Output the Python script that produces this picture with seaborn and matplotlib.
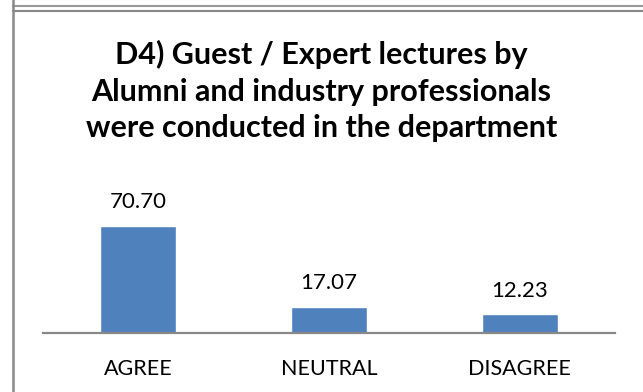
import matplotlib
matplotlib.use("Agg")
import matplotlib.pyplot as plt
from matplotlib.lines import Line2D
import seaborn as sns

categories = ["AGREE", "NEUTRAL", "DISAGREE"]
values = [70.70, 17.07, 12.23]
value_labels = ["70.70", "17.07", "12.23"]

title = "D4) Guest / Expert lectures by\nAlumni and industry professionals\nwere conducted in the department"

sns.set_theme(style="white")
plt.rcParams["font.family"] = ["Lato", "DejaVu Sans"]

W, H = 643, 392
fig = plt.figure(figsize=(W / 100, H / 100), dpi=100)
fig.patch.set_facecolor("white")

ax = fig.add_axes([43 / W, (H - 333) / H, (615 - 43) / W, 152 / H])
sns.barplot(x=categories, y=values, color="#4F81BD", saturation=1,
            width=0.4, ax=ax)
ax.set_ylim(0, 100)
ax.set_xlim(-0.5, 2.5)
ax.set_xlabel("")
ax.set_ylabel("")
ax.set_yticks([])
for side in ("top", "left", "right"):
    ax.spines[side].set_visible(False)
ax.spines["bottom"].set_color("#888888")
ax.spines["bottom"].set_linewidth(1.6)
ax.tick_params(axis="x", length=0, pad=19, labelsize=15.5, labelcolor="black")

ax.bar_label(ax.containers[0], labels=value_labels, padding=10,
             fontsize=16, color="black")

fig.text(0.5, 1 - 91 / H, title, ha="center", va="center",
         fontsize=22, fontweight="bold", linespacing=1.36, color="black")

# panel frame lines
fig.add_artist(Line2D([13 / W, 1], [1 - 6 / H, 1 - 6 / H], color="#999999", lw=1.5))
fig.add_artist(Line2D([13 / W, 1], [1 - 11 / H, 1 - 11 / H], color="#888888", lw=1.5))
fig.add_artist(Line2D([13 / W, 13 / W], [0, 1], color="#888888", lw=1.8))

fig.savefig("out.png", dpi=100, facecolor="white")
